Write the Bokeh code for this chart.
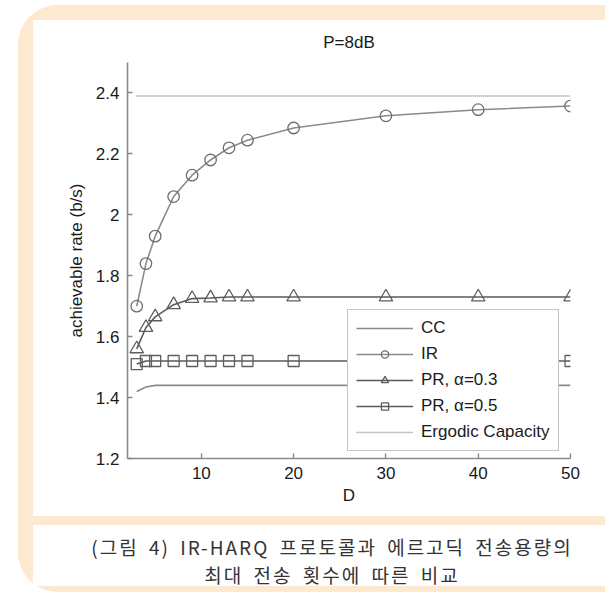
from bokeh.plotting import figure
from bokeh.models import (Range1d, FixedTicker, CustomJSTickFormatter, Legend, LegendItem, Div)
from bokeh.layouts import column
from bokeh.embed import file_html
from bokeh.resources import INLINE

# ---- data ----
D = [3, 4, 5, 7, 9, 11, 13, 15, 20, 30, 40, 50]
CC = [1.42, 1.435, 1.44, 1.44, 1.44, 1.44, 1.44, 1.44, 1.44, 1.44, 1.44, 1.44]
IR = [1.70, 1.84, 1.93, 2.06, 2.13, 2.18, 2.22, 2.245, 2.285, 2.325, 2.345, 2.357]
PR03 = [1.56, 1.63, 1.665, 1.705, 1.725, 1.727, 1.73, 1.73, 1.73, 1.73, 1.73, 1.73]
PR05 = [1.51, 1.52, 1.52, 1.52, 1.52, 1.52, 1.52, 1.52, 1.52, 1.52, 1.52, 1.52]
ERG_D = [3, 50]
ERG = [2.39, 2.39]
X_TICKS = [10, 20, 30, 40, 50]
Y_TICKS = [1.2, 1.4, 1.6, 1.8, 2.0, 2.2, 2.4]
TITLE = "P=8dB"
XLABEL = "D"
YLABEL = "achievable rate (b/s)"
CAPTION1 = "(그림 4) IR-HARQ 프로토콜과 에르고딕 전송용량의"
CAPTION2 = "최대 전송 횟수에 따른 비교"

CREAM = "#fde8d0"
AX = "#8a8a8a"
FONT = "Liberation Sans"

W = 597
H_MAIN = 516
H_CAP = 68

p = figure(width=W, height=H_MAIN, output_backend="svg", toolbar_location=None,
           x_range=Range1d(2, 50), y_range=Range1d(1.2, 2.5),
           min_border_left=127, min_border_right=27, min_border_top=62, min_border_bottom=58,
           border_fill_color=None, background_fill_color=None,
           outline_line_color=None, title=TITLE)
p.grid.visible = False

p.title.align = "center"
p.title.text_font = FONT
p.title.text_font_size = "17px"
p.title.text_font_style = "normal"
p.title.text_color = "#1a1a1a"
p.title.standoff = 22

for ax in (p.xaxis[0], p.yaxis[0]):
    ax.axis_line_color = AX
    ax.axis_line_width = 1.6
    ax.major_tick_line_color = AX
    ax.major_tick_line_width = 1.4
    ax.major_tick_in = 5
    ax.major_tick_out = 0
    ax.minor_tick_line_color = None
    ax.major_label_text_font = FONT
    ax.major_label_text_font_size = "17px"
    ax.major_label_text_color = "#1a1a1a"
    ax.axis_label_text_font = FONT
    ax.axis_label_text_font_size = "17px"
    ax.axis_label_text_font_style = "normal"
    ax.axis_label_text_color = "#1a1a1a"

p.xaxis.ticker = FixedTicker(ticks=X_TICKS)
p.yaxis.ticker = FixedTicker(ticks=Y_TICKS)
p.yaxis.formatter = CustomJSTickFormatter(code="return tick.toFixed(1).replace(/\\.0$/, '')")
p.xaxis.axis_label = XLABEL
p.yaxis.axis_label = YLABEL
p.xaxis.major_label_standoff = 8
p.yaxis.major_label_standoff = 8
p.xaxis.axis_label_standoff = 4
p.yaxis.axis_label_standoff = 7

# ---- series ----
r_erg = p.line(ERG_D, ERG, line_color="#8a8a8a", line_width=1.4, line_dash="1 1")
r_cc = p.line(D, CC, line_color="#8a8a8a", line_width=1.6)
r_ir = p.line(D, IR, line_color="#8a8a8a", line_width=1.6)
m_ir = p.scatter(D, IR, marker="circle", size=11.5, fill_color=None, line_color="#6e6e6e", line_width=1.3)
r_p3 = p.line(D, PR03, line_color="#5a5a5a", line_width=1.6)
m_p3 = p.scatter(D, PR03, marker="triangle", size=13.5, fill_color=None, line_color="#5e5e5e", line_width=1.3)
r_p5 = p.line(D, PR05, line_color="#5a5a5a", line_width=1.6)
m_p5 = p.scatter(D, PR05, marker="square", size=11, fill_color=None, line_color="#5e5e5e", line_width=1.3)

legend = Legend(items=[
    LegendItem(label="CC", renderers=[r_cc]),
    LegendItem(label="IR", renderers=[r_ir, m_ir]),
    LegendItem(label="PR, α=0.3", renderers=[r_p3, m_p3]),
    LegendItem(label="PR, α=0.5", renderers=[r_p5, m_p5]),
    LegendItem(label="Ergodic Capacity", renderers=[r_erg]),
], location=(220, 7))
legend.padding = 8
legend.margin = 0
legend.spacing = 6
legend.glyph_width = 57
legend.glyph_height = 18
legend.label_height = 18
legend.label_standoff = 8
legend.label_text_font = FONT
legend.label_text_font_size = "17px"
legend.label_text_color = "#1a1a1a"
legend.border_line_color = AX
legend.border_line_width = 1.4
legend.background_fill_color = "white"
legend.background_fill_alpha = 1
p.add_layout(legend)

# ---- caption panel (two separate lines) ----
line_css = ("position:absolute;left:0;width:654px;height:28px;line-height:28px;text-align:center;"
            "font-family:'Noto Sans CJK KR';font-size:19px;color:#333333;"
            "letter-spacing:2px;word-spacing:4px;white-space:nowrap")
cap_html = (f'<div style="{line_css};top:12px">{CAPTION1}</div>'
            f'<div style="{line_css};top:40px">{CAPTION2}</div>')
cap = Div(text=cap_html, width=W, height=H_CAP, styles={"position": "relative", "overflow": "visible"})

# ---- page decoration: cream rounded frame with two white panels ----
C = CREAM
bg = ", ".join([
    "linear-gradient(#ffffff,#ffffff) 33px 20px / 600px 496px no-repeat",
    "linear-gradient(#ffffff,#ffffff) 33px 525px / 600px 61px no-repeat",
    f"linear-gradient({C},{C}) 58px 5px / 700px 700px no-repeat",
    f"linear-gradient({C},{C}) 18px 45px / 40px 507px no-repeat",
    f"radial-gradient(circle at 100% 100%, {C} 39.5px, rgba(255,255,255,0) 40.5px) 18px 5px / 40px 40px no-repeat",
    f"radial-gradient(circle at 100% 0%, {C} 39.5px, rgba(255,255,255,0) 40.5px) 18px 552px / 40px 40px no-repeat",
    "#ffffff",
])
layout = column(p, cap, spacing=0, styles={"background": bg})

open("out.html", "w").write(file_html(layout, INLINE))
